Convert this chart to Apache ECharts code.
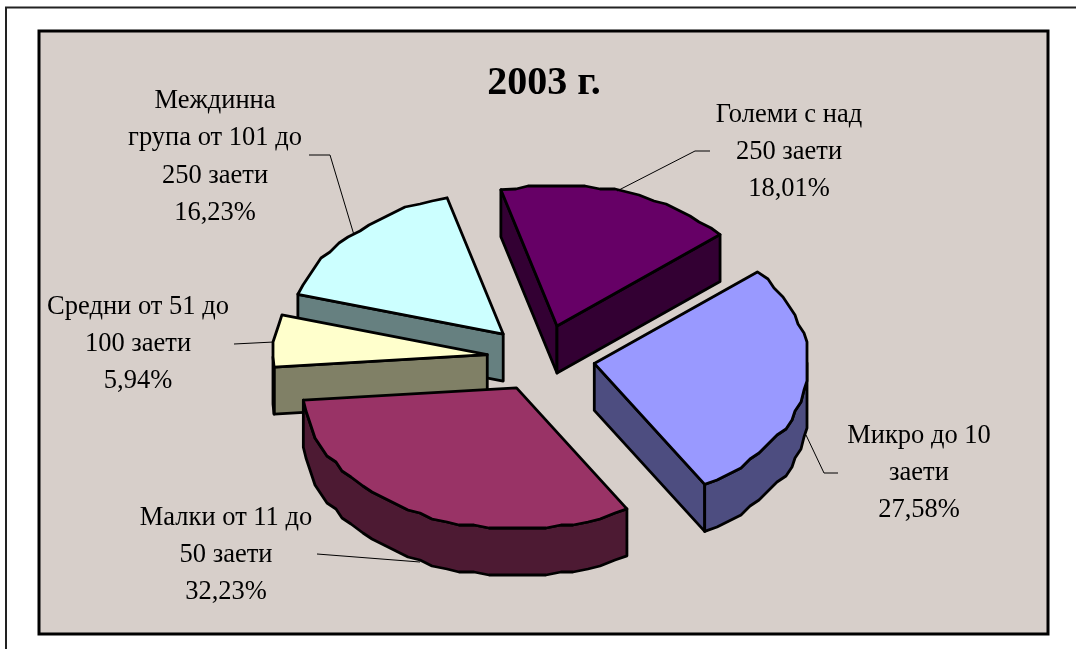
<!DOCTYPE html>
<html>
<head>
<meta charset="utf-8">
<style>
  html, body { margin: 0; padding: 0; background: #fff; }
  #main { width: 1076px; height: 649px; }
</style>
<script src="https://cdn.jsdelivr.net/npm/echarts@6/dist/echarts.min.js"></script>
</head>
<body>
<div id="main"></div>
<script>
const categories = ['Големи с над\n250 заети', 'Микро до 10\nзаети', 'Малки от 11 до\n50 заети', 'Средни от 51 до\n100 заети', 'Междинна\nгрупа от 101 до\n250 заети']
const shares = [18.01, 27.58, 32.23, 5.94, 16.23]
const topColors = ['#660066', '#9999ff', '#993366', '#ffffcc', '#ccffff']
const wallColors = ['#330033', '#4d4d80', '#4d1a33', '#808066', '#668080']

// painted back to front, the slices overlap on the left side
const paintOrder = [0, 1, 4, 3, 2]

// label centre and leader line for each slice
const labelAt = [[789, 152], [919, 473], [226, 555], [138, 344], [215, 157]]
const leaders = [
    [[710, 151], [695, 151], [617, 191]],
    [[838, 473], [824, 473], [806, 435]],
    [[317, 554], [420, 562]],
    [[234, 344], [274, 342]],
    [[309, 155], [330, 155], [354, 235]]
]

const pie = { cx: 541, cy: 358, r: 214, tilt: 0.66, depth: 47, explodeX: 54, explodeY: 33.5, startDeg: -15.2, grid: 3 }
const total = shares.reduce((a, b) => a + b, 0)

function rad(deg) { return deg * Math.PI / 180 }

function sliceAngles(i) {
    let before = 0
    for (let k = 0; k < i; k++) before += shares[k]
    const a0 = pie.startDeg + before / total * 360
    return [a0, a0 + shares[i] / total * 360]
}

function onEllipse(o, deg, rx, ry) {
    return [o[0] + Math.sin(rad(deg)) * rx, o[1] - Math.cos(rad(deg)) * ry]
}

// the arc is snapped to a coarse grid, like the low-res metafile it comes from
function snap(p) {
    return [Math.round(p[0] / pie.grid) * pie.grid, Math.round(p[1] / pie.grid) * pie.grid]
}

function down(p) { return [p[0], p[1] + pie.depth] }

function wall(run, color) {
    return {
        type: 'polygon',
        shape: { points: run.concat(run.map(down).reverse()) },
        style: { fill: color, stroke: '#000', lineWidth: 2.8, lineJoin: 'round' }
    }
}

function renderSlice(params, api) {
    const i = api.value(0)
    const angles = sliceAngles(i)
    const mid = (angles[0] + angles[1]) / 2
    const apex = onEllipse([pie.cx, pie.cy], mid, pie.explodeX, pie.explodeY)

    const arc = []
    const steps = Math.ceil((angles[1] - angles[0]) / 4)
    for (let s = 0; s <= steps; s++) {
        const p = onEllipse(apex, angles[0] + (angles[1] - angles[0]) * s / steps, pie.r, pie.r * pie.tilt)
        arc.push(s === 0 || s === steps ? p : snap(p))
    }

    const children = []
    const first = arc[0]
    const last = arc[arc.length - 1]
    // walking clockwise on screen, an edge going left faces the viewer
    if (first[0] < apex[0]) children.push(wall([apex, first], wallColors[i]))
    if (apex[0] < last[0]) children.push(wall([last, apex], wallColors[i]))
    let run = []
    for (let s = 1; s < arc.length; s++) {
        const deg = angles[0] + (angles[1] - angles[0]) * s / steps
        const facing = Math.cos(rad(deg - 2)) < 0
        if (facing) {
            if (!run.length) run.push(arc[s - 1])
            run.push(arc[s])
        }
    }
    if (run.length) children.push(wall(run, wallColors[i]))

    children.push({
        type: 'polygon',
        shape: { points: [apex].concat(arc) },
        style: { fill: topColors[i], stroke: '#000', lineWidth: 2.8, lineJoin: 'round' }
    })

    children.push({
        type: 'polyline',
        shape: { points: leaders[i] },
        style: { fill: null, stroke: '#000', lineWidth: 1 }
    })
    children.push({
        type: 'text',
        x: labelAt[i][0],
        y: labelAt[i][1],
        style: {
            text: api.value(2) + '\n' + shares[i].toFixed(2).replace('.', ',') + '%',
            fill: '#000',
            font: '26.5px "Liberation Serif", serif',
            lineHeight: 37.2,
            align: 'center',
            verticalAlign: 'middle'
        }
    })
    return { type: 'group', children }
}

const chart = echarts.init(document.getElementById('main'))
chart.setOption({
    animation: false,
    backgroundColor: '#fff',
    title: {
        text: '2003 г.',
        left: 539,
        top: 59,
        textAlign: 'center',
        textStyle: { fontFamily: '"Liberation Serif", serif', fontSize: 40, fontWeight: 'bold', color: '#000' }
    },
    graphic: [
        {
            type: 'polyline',
            silent: true,
            z: -1,
            shape: { points: [[6, 649], [6, 7.5], [1076, 7.5]] },
            style: { fill: null, stroke: '#222', lineWidth: 2 }
        },
        {
            type: 'rect',
            silent: true,
            z: -1,
            shape: { x: 39, y: 31, width: 1009, height: 603 },
            style: { fill: '#d7cfca', stroke: '#000', lineWidth: 3 }
        }
    ],
    series: [{
        type: 'custom',
        coordinateSystem: 'none',
        silent: true,
        renderItem: renderSlice,
        data: paintOrder.map(i => [i, shares[i], categories[i]]),
        encode: { value: [0, 1] },
        dimensions: ['slice', 'share', { name: 'category', type: 'ordinal' }]
    }]
})
</script>
</body>
</html>
